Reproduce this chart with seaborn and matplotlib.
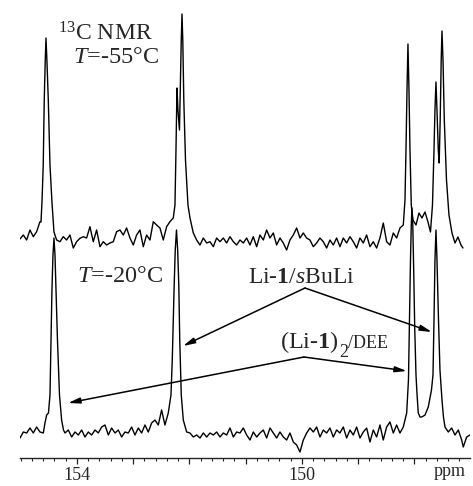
import numpy as np
import matplotlib
matplotlib.use("Agg")
import matplotlib.pyplot as plt
import seaborn as sns

# 13C NMR, two temperatures. Intensities are heights above each baseline
# (arbitrary units).

# ---- T = -55 C (upper trace) ----
top_n1_ppm = (155.132, 154.658)
top_n1 = [1.7, 3.3, 1, 5, 0, 10, 3.3, 8.3, 18.3]

top_p1_ppm = [154.640, 154.622, 154.600, 154.582, 154.564, 154.551, 154.535,
              154.510, 154.480, 154.445, 154.409]
top_p1 = [18, 38, 75, 140, 180, 202, 180, 140, 75, 38, 8]

top_n2_ppm = (154.362, 152.288)
top_n2 = [0, -1.7, 3.3, 0, 5, -8, -1.7, 1.7, 3.3, 2,
          13.3, -1.7, 10, -6.7, -1.7, -5, -3, -1.7, 8.3, 10,
          5, 12, 2, -5, 5, 10, -6.7, 5, 0, 18.3,
          15, 12, 0, 13.3, 18.3, 22]

top_p2_ppm = [152.258, 152.240, 152.222, 152.205, 152.178, 152.160, 152.146,
              152.133, 152.119, 152.101, 152.071, 152.027, 151.991]
top_p2 = [35, 90, 152, 130, 110, 160, 200, 226, 200, 140, 80, 35, 22]

top_n3_ppm = (151.932, 148.199)
top_n3 = [7, 0, -5, 2, -3, -1.7, -6.7, 2, -1.7, 2, -3, 3.3, -1.7, -5, 0,
          -3, 2, -5, 3.3, -6.7, 5, 0, 10, 2, 7, -5, 2, -3, -10, 0,
          5, 12, 2, 7, 2, 0, -6.7, -3, 2, -1.7, -8, 0, -5, 2, -6.7,
          2, -3, 3.3, -1.7, -8, 2, -3, 5, -6.7, -1.7, -8, 2, 17, -1.7, -5,
          7, 2, 12, 15]

top_p3_ppm = [148.169, 148.151, 148.133, 148.116, 148.098, 148.080, 148.057,
              148.027, 147.973, 147.920, 147.867, 147.813, 147.760, 147.716,
              147.680, 147.653, 147.636, 147.618, 147.600, 147.577, 147.561,
              147.543, 147.525, 147.511, 147.493, 147.470, 147.431, 147.387,
              147.333, 147.280, 147.227, 147.173, 147.138]
top_p3 = [40, 90, 150, 196, 150, 90, 35, 20, 15, 27, 22, 28, 18, 8,
          35, 90, 130, 158, 130, 90, 77, 120, 180, 209, 180, 120, 60, 25,
          7, -3, 3, -5, -8]

# ---- T = -20 C (lower trace) ----
bot_n1_ppm = (155.013, 154.599)
bot_n1 = [-5, 1, 0, 5, 0, 6, 1, 0]

bot_p1_ppm = [154.569, 154.539, 154.507, 154.480, 154.462, 154.445, 154.427,
              154.409, 154.391, 154.373, 154.347, 154.311, 154.273, 154.240]
bot_p1 = [10, 18, 20, 38, 93, 143, 178, 195, 178, 143, 93, 38, 13, 3]

bot_n2_ppm = (154.213, 152.377)
bot_n2 = [0, 3, -4, 1, -2, 3, -4, 1, -2, 3,
          0, 6, 8, -2, 5, 0, 3, -4, 1, 0,
          6, -2, 5, 0, 8, 1, 10, 13, 8, 23,
          8, 20]

bot_p2_ppm = [152.329, 152.306, 152.288, 152.272, 152.253, 152.231, 152.210,
              152.190, 152.173, 152.146, 152.110]
bot_p2 = [38, 73, 113, 148, 183, 203, 183, 148, 93, 38, 13]

bot_n3_ppm = (152.050, 148.199)
bot_n3 = [1, 0, -4, -2, -5, 0, -4, 0, -2, 1,
          -4, 0, -2, 5, -4, 1, 0, 5, -2, -7,
          1, -4, 0, 3, -5, 5, 0, -5, 1, -4,
          -7, 0, -9, -12, -19, -7, 0, 5, 1, 6,
          -4, 3, 0, 5, -4, 3, 0, 6, -5, 3,
          -2, 6, -5, 1, 5, -9, 3, -4, 8, -7,
          6, 11, 0, 8, 0, 6]

bot_p3_ppm = [148.139, 148.107, 148.089, 148.071, 148.057, 148.045, 148.030,
              148.014, 147.995, 147.973, 147.956, 147.933, 147.902, 147.872,
              147.840, 147.813, 147.778, 147.755, 147.725, 147.698, 147.671,
              147.653, 147.636, 147.618, 147.600, 147.573, 147.547, 147.511,
              147.485, 147.458, 147.399, 147.339, 147.280, 147.221, 147.161,
              147.133, 147.072, 147.013]
bot_p3 = [20, 53, 113, 173, 208, 225, 208, 163, 103, 58,
          40, 20, 16, 16, 17, 18, 23, 26, 35, 43,
          58, 113, 173, 203, 173, 113, 63, 33, 16, 6,
          1, 5, -2, 3, -7, -14, -4, -2]

tick_labels = {154: "154", 150: "150"}


def noise_ppm(rng, vals):
    # evenly spaced samples between the two read-off end points
    return np.linspace(rng[0], rng[1], len(vals))


top_ppm = np.concatenate([noise_ppm(top_n1_ppm, top_n1), top_p1_ppm,
                          noise_ppm(top_n2_ppm, top_n2), top_p2_ppm,
                          noise_ppm(top_n3_ppm, top_n3), top_p3_ppm])
top_int = np.concatenate([top_n1, top_p1, top_n2, top_p2, top_n3, top_p3])

bot_ppm = np.concatenate([noise_ppm(bot_n1_ppm, bot_n1), bot_p1_ppm,
                          noise_ppm(bot_n2_ppm, bot_n2), bot_p2_ppm,
                          noise_ppm(bot_n3_ppm, bot_n3), bot_p3_ppm])
bot_int = np.concatenate([bot_n1, bot_p1, bot_n2, bot_p2, bot_n3, bot_p3])

# stacking offsets for the two traces
top_offset = 218
bot_offset = 25

sns.set_style("ticks")
plt.rcParams["font.family"] = ["Liberation Serif", "DejaVu Serif"]
plt.rcParams["mathtext.fontset"] = "custom"
plt.rcParams["mathtext.rm"] = "Liberation Serif"
plt.rcParams["mathtext.it"] = "Liberation Serif:italic"
plt.rcParams["mathtext.bf"] = "Liberation Serif:bold"

fig = plt.figure(figsize=(4.73, 4.86), dpi=100)
ax = fig.add_axes([20 / 473, 28 / 486, 450 / 473, 458 / 486])

sns.lineplot(x=top_ppm, y=top_int + top_offset, sort=False, color="black",
             lw=1.0, ax=ax)
sns.lineplot(x=bot_ppm, y=bot_int + bot_offset, sort=False, color="black",
             lw=1.0, ax=ax)

ax.set_xlim(155.013, 147.013)
ax.set_ylim(0, 458)
ax.set_yticks([])
for s in ["left", "right", "top"]:
    ax.spines[s].set_visible(False)
ax.spines["bottom"].set_linewidth(1.0)

ax.set_xticks(np.arange(148, 155))
ax.set_xticks(np.arange(147.2, 155.0, 0.2), minor=True)
ax.set_xticklabels([tick_labels.get(int(t), "") for t in np.arange(148, 155)])
ax.tick_params(axis="x", which="major", direction="out", length=4.5,
               width=0.9, pad=2, labelsize=13)
ax.tick_params(axis="x", which="minor", direction="out", length=2.5,
               width=0.8)
ax.text(147.37, -0.012, "ppm", transform=ax.get_xaxis_transform(),
        ha="center", va="top", fontsize=13)

# labels
ax.text(154.338, 418, r"$^{13}$C NMR", fontsize=17, ha="left",
        va="baseline")
ax.text(154.071, 395, r"$T$=-55°C", fontsize=17.5, ha="left", va="baseline")
ax.text(154.0, 176, r"$T$=-20°C", fontsize=17.5, ha="left", va="baseline")
ax.text(150.960, 175, r"Li-$\mathbf{1}$/$s$BuLi", fontsize=17, ha="left",
        va="baseline")
ax.text(150.391, 110, r"(Li-$\mathbf{1}$)", fontsize=17.5, ha="left",
        va="baseline")
ax.text(149.343, 101, "2", fontsize=13, ha="left", va="baseline")
ax.text(149.182, 110, "/DEE", fontsize=13, ha="left", va="baseline")

arrow = dict(arrowstyle="-|>,head_length=0.7,head_width=0.17",
             color="black", lw=1.1, shrinkA=0, shrinkB=0)
for apex, heads in [((149.947, 170), [(152.116, 112), (147.689, 126)]),
                    ((149.965, 101), [(154.160, 55), (148.134, 87)])]:
    for h in heads:
        ax.annotate("", xy=h, xytext=apex, arrowprops=arrow)

fig.savefig("out.png", dpi=100)
